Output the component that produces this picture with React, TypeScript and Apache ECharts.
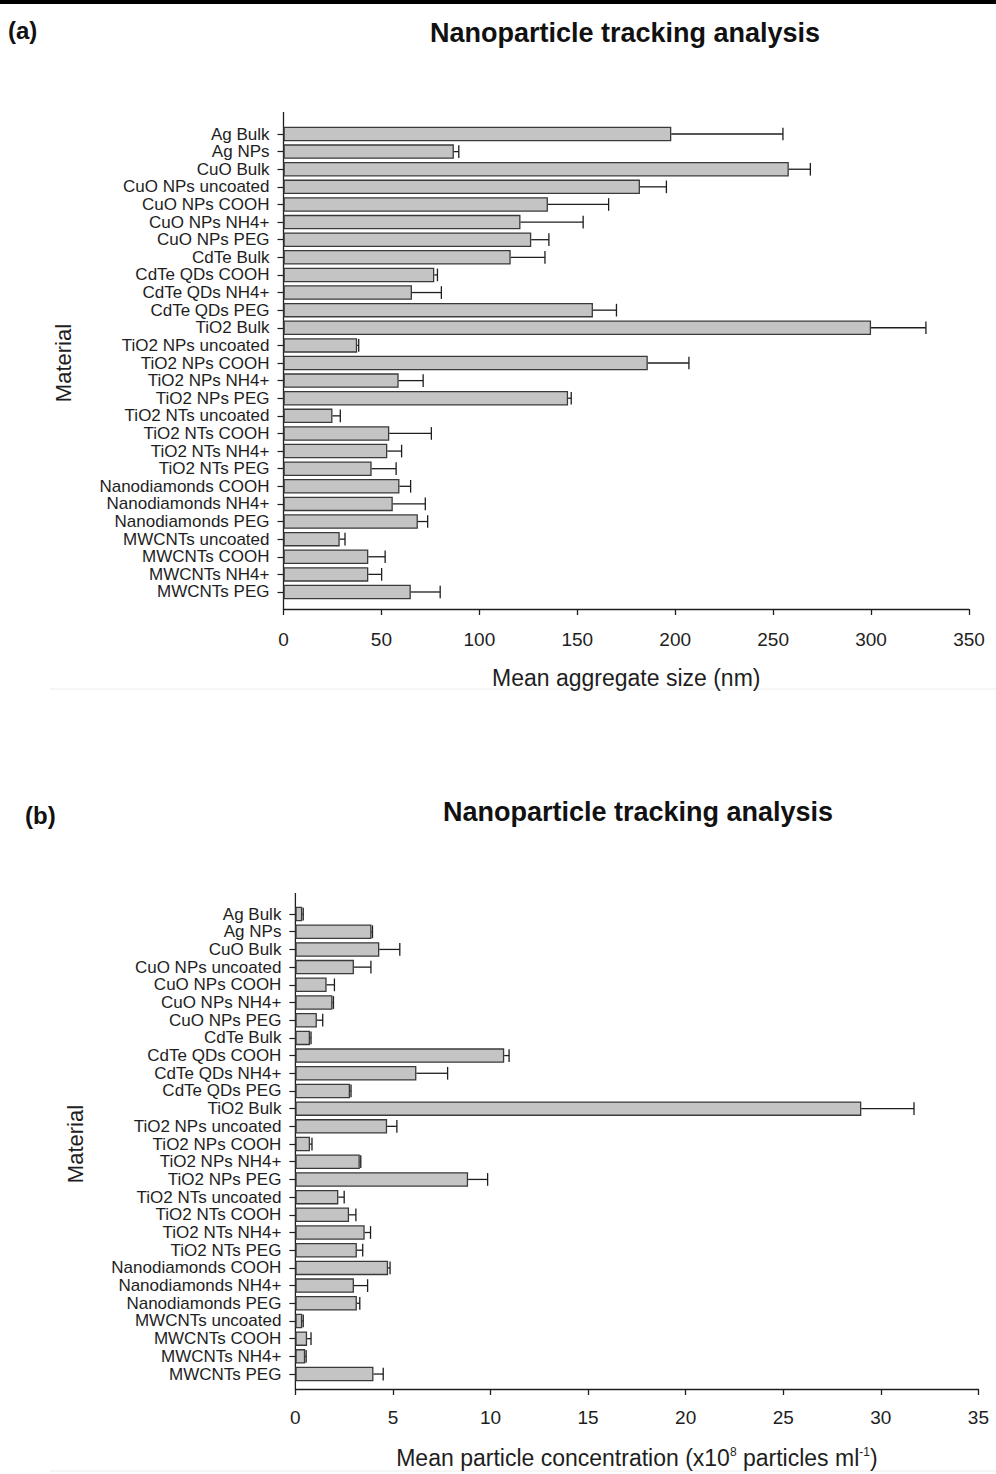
import React, { useEffect, useRef } from "react";
import * as echarts from "echarts";

// Materials, listed top to bottom
const materials = [
  "Ag Bulk",
  "Ag NPs",
  "CuO Bulk",
  "CuO NPs uncoated",
  "CuO NPs COOH",
  "CuO NPs NH4+",
  "CuO NPs PEG",
  "CdTe Bulk",
  "CdTe QDs COOH",
  "CdTe QDs NH4+",
  "CdTe QDs PEG",
  "TiO2 Bulk",
  "TiO2 NPs uncoated",
  "TiO2 NPs COOH",
  "TiO2 NPs NH4+",
  "TiO2 NPs PEG",
  "TiO2 NTs uncoated",
  "TiO2 NTs COOH",
  "TiO2 NTs NH4+",
  "TiO2 NTs PEG",
  "Nanodiamonds COOH",
  "Nanodiamonds NH4+",
  "Nanodiamonds PEG",
  "MWCNTs uncoated",
  "MWCNTs COOH",
  "MWCNTs NH4+",
  "MWCNTs PEG",
];

// (a) mean aggregate size (nm) and its error
const sizeMean = [
  198, 87, 258, 182, 135, 121, 126.5, 116, 77, 65.6, 158, 300, 37.6, 186,
  58.8, 145.3, 25, 54, 53, 45, 59.2, 55.8, 68.6, 28.7, 43.3, 43.3, 65,
];
const sizeErr = [
  57, 2.5, 11, 13.5, 31, 32, 9, 17.5, 1.6, 15, 12, 28, 0.8, 21, 12.5, 1.6, 4,
  21.5, 7.3, 12.5, 5.7, 16.6, 5, 2.7, 8.6, 6.8, 15,
];

// (b) mean particle concentration (x10^8 particles/ml) and its error
const concMean = [
  0.35, 3.9, 4.3, 3.0, 1.6, 1.9, 1.1, 0.75, 10.7, 6.2, 2.8, 29.0, 4.7, 0.75,
  3.3, 8.85, 2.2, 2.75, 3.55, 3.15, 4.75, 3.0, 3.15, 0.35, 0.6, 0.5, 4.0,
];
const concErr = [
  0.05, 0.05, 1.05, 0.87, 0.4, 0.05, 0.3, 0.05, 0.25, 1.6, 0.05, 2.7, 0.5, 0.1,
  0.05, 1.0, 0.3, 0.35, 0.3, 0.3, 0.1, 0.7, 0.15, 0.05, 0.2, 0.05, 0.5,
];

const sizeTicks = { min: 0, max: 350, interval: 50 };
const concTicks = { min: 0, max: 35, interval: 5 };

const FONT = "'Liberation Sans', Arial, Helvetica, sans-serif";
const INK = "#1e1e1e";

// pixel layout of the two panels
const A = { left: 283.5, right: 969, top: 125.2, bottom: 600.8, axisTop: 112, xLine: 609 };
const B = { left: 295.4, right: 978.4, top: 905.2, bottom: 1382.9, axisTop: 893, xLine: 1389 };

function errorRender(params: any, api: any) {
  const v = api.value(1);
  const e = api.value(2);
  const idx = api.value(0);
  const s = api.coord([v, idx]);
  const t = api.coord([v + e, idx]);
  const h = api.size([0, 1])[1] * 0.72;
  const style = { stroke: INK, lineWidth: 1.3, fill: null };
  return {
    type: "group",
    children: [
      { type: "line", shape: { x1: s[0], y1: s[1], x2: t[0], y2: t[1] }, style },
      { type: "line", shape: { x1: t[0], y1: t[1] - h / 2, x2: t[0], y2: t[1] + h / 2 }, style },
    ],
  };
}

function xAxisFor(p: typeof A, ticks: typeof sizeTicks, grid: number, name: any, margin: number) {
  return {
    type: "value",
    gridIndex: grid,
    min: ticks.min,
    max: ticks.max,
    interval: ticks.interval,
    offset: p.xLine - p.bottom,
    axisLine: { show: true, lineStyle: { color: INK, width: 1.3 } },
    axisTick: { show: true, length: 6, lineStyle: { color: INK, width: 1.3 } },
    axisLabel: { fontFamily: FONT, fontSize: 19, color: INK, margin },
    splitLine: { show: false },
    name: name.text,
    nameLocation: "middle",
    nameGap: 57,
    nameTextStyle: name.style,
  };
}

function yAxisFor(grid: number) {
  return {
    type: "category",
    gridIndex: grid,
    data: materials,
    inverse: true,
    axisLine: { show: false },
    axisTick: { show: true, alignWithLabel: true, length: 6, lineStyle: { color: INK, width: 1.2 } },
    axisLabel: { fontFamily: FONT, fontSize: 17, color: INK, margin: 14, interval: 0 },
    name: "Material",
    nameLocation: "middle",
    nameRotate: 90,
    nameGap: 209,
    nameTextStyle: { fontFamily: FONT, fontSize: 22, color: INK },
  };
}

function barSeries(values: number[], axis: number) {
  return {
    type: "bar",
    xAxisIndex: axis,
    yAxisIndex: axis,
    data: values,
    barWidth: 14.5,
    itemStyle: { color: "#c4c4c4", borderColor: "#3a3a3a", borderWidth: 1.3 },
    z: 2,
  };
}

function errSeries(values: number[], errs: number[], axis: number) {
  return {
    type: "custom",
    xAxisIndex: axis,
    yAxisIndex: axis,
    data: values.map((v, i) => [i, v, errs[i]]),
    encode: { x: 1, y: 0 },
    renderItem: errorRender,
    z: 3,
  };
}

export default function App() {
  const ref = useRef<HTMLDivElement>(null);

  useEffect(() => {
    if (!ref.current) return;
    const chart = echarts.init(ref.current, null, { renderer: "svg" });
    const W = 996;

    const titleStyle = { fontFamily: FONT, fontSize: 27, fontWeight: "bold", fill: "#111" };

    chart.setOption({
      animation: false,
      backgroundColor: "#ffffff",
      grid: [
        { left: A.left, width: A.right - A.left, top: A.top, height: A.bottom - A.top, containLabel: false },
        { left: B.left, width: B.right - B.left, top: B.top, height: B.bottom - B.top, containLabel: false },
      ],
      xAxis: [
        xAxisFor(A, sizeTicks, 0, {
          text: "Mean aggregate size (nm)",
          style: { fontFamily: FONT, fontSize: 23, color: INK },
        }, 21),
        xAxisFor(B, concTicks, 1, {
          text: "Mean particle concentration (x10{sup|8} particles ml{sup|-1})",
          style: {
            fontFamily: FONT,
            fontSize: 23,
            color: INK,
            rich: {
              sup: { fontFamily: FONT, fontSize: 12, color: INK, verticalAlign: "top", lineHeight: 12 },
            },
          },
        }, 19),
      ],
      yAxis: [yAxisFor(0), yAxisFor(1)],
      series: [
        barSeries(sizeMean, 0),
        errSeries(sizeMean, sizeErr, 0),
        barSeries(concMean, 1),
        errSeries(concMean, concErr, 1),
      ],
      graphic: [
        // rule across the top of the figure
        { type: "rect", shape: { x: 0, y: 0, width: W, height: 4 }, style: { fill: "#000" } },
        // panel labels and headings
        { type: "text", x: 8, y: 30, style: { text: "(a)", fontFamily: FONT, fontSize: 24, fontWeight: "bold", fill: "#111", verticalAlign: "middle" } },
        { type: "text", x: 625, y: 33, style: { ...titleStyle, text: "Nanoparticle tracking analysis", align: "center", verticalAlign: "middle" } },
        { type: "text", x: 25, y: 815, style: { text: "(b)", fontFamily: FONT, fontSize: 24, fontWeight: "bold", fill: "#111", verticalAlign: "middle" } },
        { type: "text", x: 638, y: 812, style: { ...titleStyle, text: "Nanoparticle tracking analysis", align: "center", verticalAlign: "middle" } },
        // vertical axis lines, running from above the first bar down to the value axis
        { type: "line", shape: { x1: A.left, y1: A.axisTop, x2: A.left, y2: A.xLine }, style: { stroke: INK, lineWidth: 1.3 } },
        { type: "line", shape: { x1: B.left, y1: B.axisTop, x2: B.left, y2: B.xLine }, style: { stroke: INK, lineWidth: 1.3 } },
        // faint panel frame edges
        { type: "line", shape: { x1: 50, y1: 689, x2: W, y2: 689 }, style: { stroke: "#ececec", lineWidth: 1 } },
        { type: "line", shape: { x1: 50, y1: 1471, x2: W, y2: 1471 }, style: { stroke: "#ececec", lineWidth: 1 } },
      ],
    });

    return () => chart.dispose();
  }, []);

  return (
    <div
      ref={ref}
      style={{ position: "absolute", left: 0, top: 0, width: 996, height: 1474 }}
    />
  );
}
